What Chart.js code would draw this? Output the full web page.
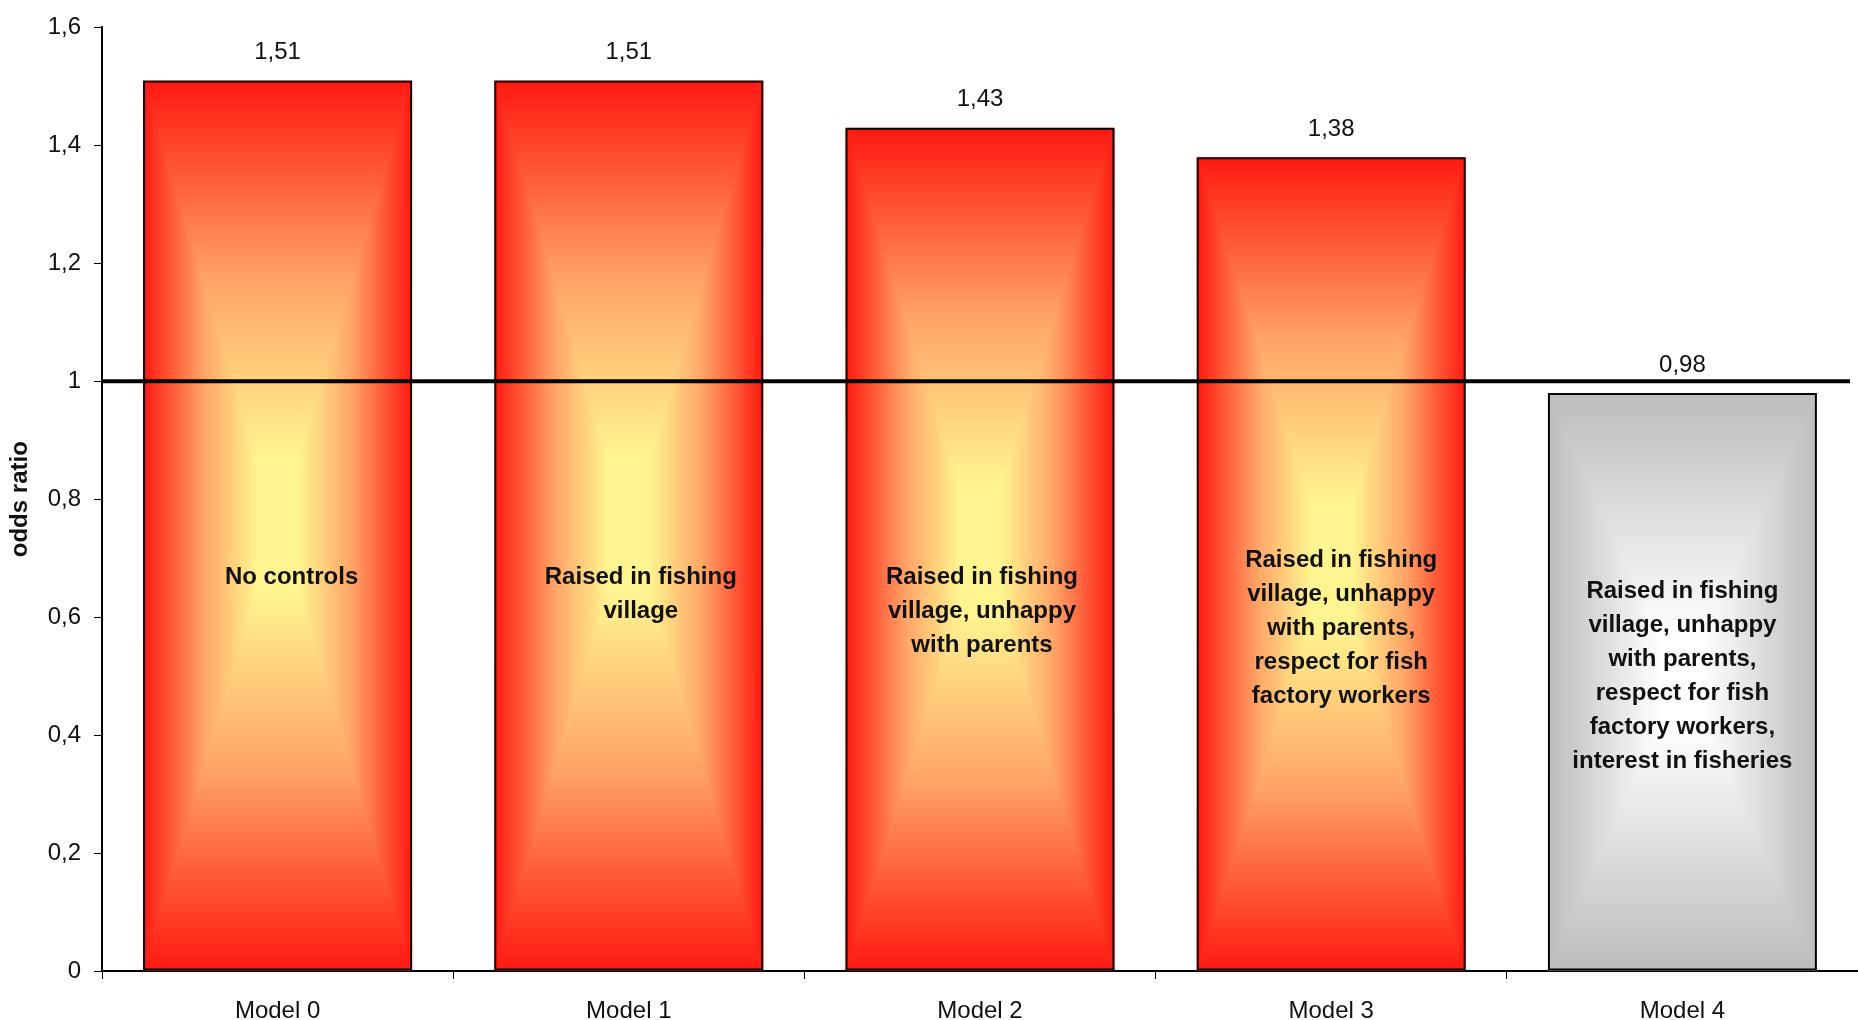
<!DOCTYPE html>
<html lang="en">
<head>
    <meta charset="UTF-8">
    <title>Odds ratio by model</title>
    <script src="https://cdn.jsdelivr.net/npm/chart.js"></script>
    <style>
        body { margin: 0; background: #fff; }
        #wrap { width: 1858px; height: 1020px; }
    </style>
</head>
<body>
    <div id="wrap"><canvas id="oddsChart"></canvas></div>

    <script>
        // values
        const categories = ['Model 0', 'Model 1', 'Model 2', 'Model 3', 'Model 4'];
        const oddsRatios = [1.51, 1.51, 1.43, 1.38, 0.98];
        const controlNotes = [
            ['No controls'],
            ['Raised in fishing', 'village'],
            ['Raised in fishing', 'village, unhappy', 'with parents'],
            ['Raised in fishing', 'village, unhappy', 'with parents,', 'respect for fish', 'factory workers'],
            ['Raised in fishing', 'village, unhappy', 'with parents,', 'respect for fish', 'factory workers,', 'interest in fisheries']
        ];
        const referenceValue = 1;

        const fmt = v => Number(v.toFixed(2)).toString().replace('.', ',');

        // edge / centre colours of the rectangular gradient
        const hot = { edge: '#ff1810', mid: '#ffa466', centre: '#fff590' };
        const grey = { edge: '#bcbcbc', mid: '#e0e0e0', centre: '#ffffff' };

        function grad(ctx, x0, y0, x1, y1, c) {
            const g = ctx.createLinearGradient(x0, y0, x1, y1);
            g.addColorStop(0, c.edge);
            g.addColorStop(0.45, c.mid);
            g.addColorStop(0.85, c.centre);
            g.addColorStop(1, c.centre);
            return g;
        }

        // Excel-style "from centre" fill drawn under each bar
        const rectGradient = {
            id: 'rectGradient',
            beforeDatasetsDraw(chart) {
                const ctx = chart.ctx;
                chart.getDatasetMeta(0).data.forEach((bar, i) => {
                    const c = oddsRatios[i] < referenceValue ? grey : hot;
                    const L = bar.x - bar.width / 2, R = bar.x + bar.width / 2;
                    const T = bar.y, B = bar.base;
                    const cx = bar.x, cy = (T + B) / 2;
                    ctx.save();
                    // top half + bottom half
                    ctx.fillStyle = grad(ctx, cx, T, cx, cy, c);
                    ctx.fillRect(L, T, R - L, cy - T + 1);
                    ctx.fillStyle = grad(ctx, cx, B, cx, cy, c);
                    ctx.fillRect(L, cy, R - L, B - cy);
                    // left and right wedges
                    ctx.beginPath();
                    ctx.moveTo(L, T); ctx.lineTo(cx, cy); ctx.lineTo(L, B); ctx.closePath();
                    ctx.fillStyle = grad(ctx, L, cy, cx, cy, c);
                    ctx.fill();
                    ctx.beginPath();
                    ctx.moveTo(R, T); ctx.lineTo(cx, cy); ctx.lineTo(R, B); ctx.closePath();
                    ctx.fillStyle = grad(ctx, R, cy, cx, cy, c);
                    ctx.fill();
                    ctx.restore();
                });
            }
        };

        const overlays = {
            id: 'overlays',
            afterDatasetsDraw(chart, args, opts) {
                const ctx = chart.ctx;
                const y = chart.scales.y;
                const area = chart.chartArea;
                // reference line at odds ratio 1
                const yRef = y.getPixelForValue(referenceValue);
                ctx.save();
                ctx.strokeStyle = '#000';
                ctx.lineWidth = 4;
                ctx.beginPath();
                ctx.moveTo(area.left, yRef);
                ctx.lineTo(area.right - 8, yRef);
                ctx.stroke();

                ctx.textAlign = 'center';
                ctx.textBaseline = 'middle';
                chart.getDatasetMeta(0).data.forEach((bar, i) => {
                    // value above the bar
                    ctx.fillStyle = '#111';
                    ctx.font = '24px "Liberation Sans", Arial, sans-serif';
                    ctx.fillText(fmt(oddsRatios[i]), bar.x, bar.y - 28);
                    // controls note inside the bar
                    ctx.font = 'bold 24px "Liberation Sans", Arial, sans-serif';
                    const top = y.getPixelForValue(opts.noteTop[i]);
                    controlNotes[i].forEach((line, k) => {
                        ctx.fillText(line, bar.x + opts.noteShift[i], top + k * 34);
                    });
                });
                ctx.restore();
            }
        };

        new Chart(document.getElementById('oddsChart'), {
            type: 'bar',
            data: {
                labels: categories,
                datasets: [{
                    data: oddsRatios,
                    backgroundColor: 'rgba(0,0,0,0)',
                    borderColor: '#000',
                    borderWidth: 2,
                    borderSkipped: false,
                    categoryPercentage: 1,
                    barPercentage: 0.766
                }]
            },
            options: {
                responsive: true,
                maintainAspectRatio: false,
                animation: false,
                layout: { padding: { top: 22, right: 0, left: 0, bottom: 0 } },
                plugins: {
                    legend: { display: false },
                    tooltip: { enabled: false },
                    overlays: {
                        noteTop: [0.667, 0.667, 0.667, 0.696, 0.643],
                        noteShift: [14, 12, 2, 10, 0]
                    }
                },
                scales: {
                    x: {
                        grid: { drawOnChartArea: false, color: '#000', tickLength: 8, offset: true },
                        border: { color: '#000', width: 2 },
                        ticks: {
                            color: '#111',
                            padding: 18,
                            font: { family: '"Liberation Sans", Arial, sans-serif', size: 24 }
                        },
                        afterFit: s => { s.height = 49; }
                    },
                    y: {
                        min: 0,
                        max: 1.6,
                        grid: { drawOnChartArea: false, color: '#000', tickLength: 8 },
                        border: { color: '#000', width: 2 },
                        ticks: {
                            stepSize: 0.2,
                            color: '#111',
                            padding: 13,
                            font: { family: '"Liberation Sans", Arial, sans-serif', size: 24 },
                            callback: v => fmt(v)
                        },
                        title: {
                            display: true,
                            text: 'odds ratio',
                            color: '#111',
                            padding: { top: 6, bottom: 4 },
                            font: { family: '"Liberation Sans", Arial, sans-serif', size: 24, weight: 'bold' }
                        },
                        afterFit: s => { s.width = 102; }
                    }
                }
            },
            plugins: [rectGradient, overlays]
        });
    </script>
</body>
</html>
